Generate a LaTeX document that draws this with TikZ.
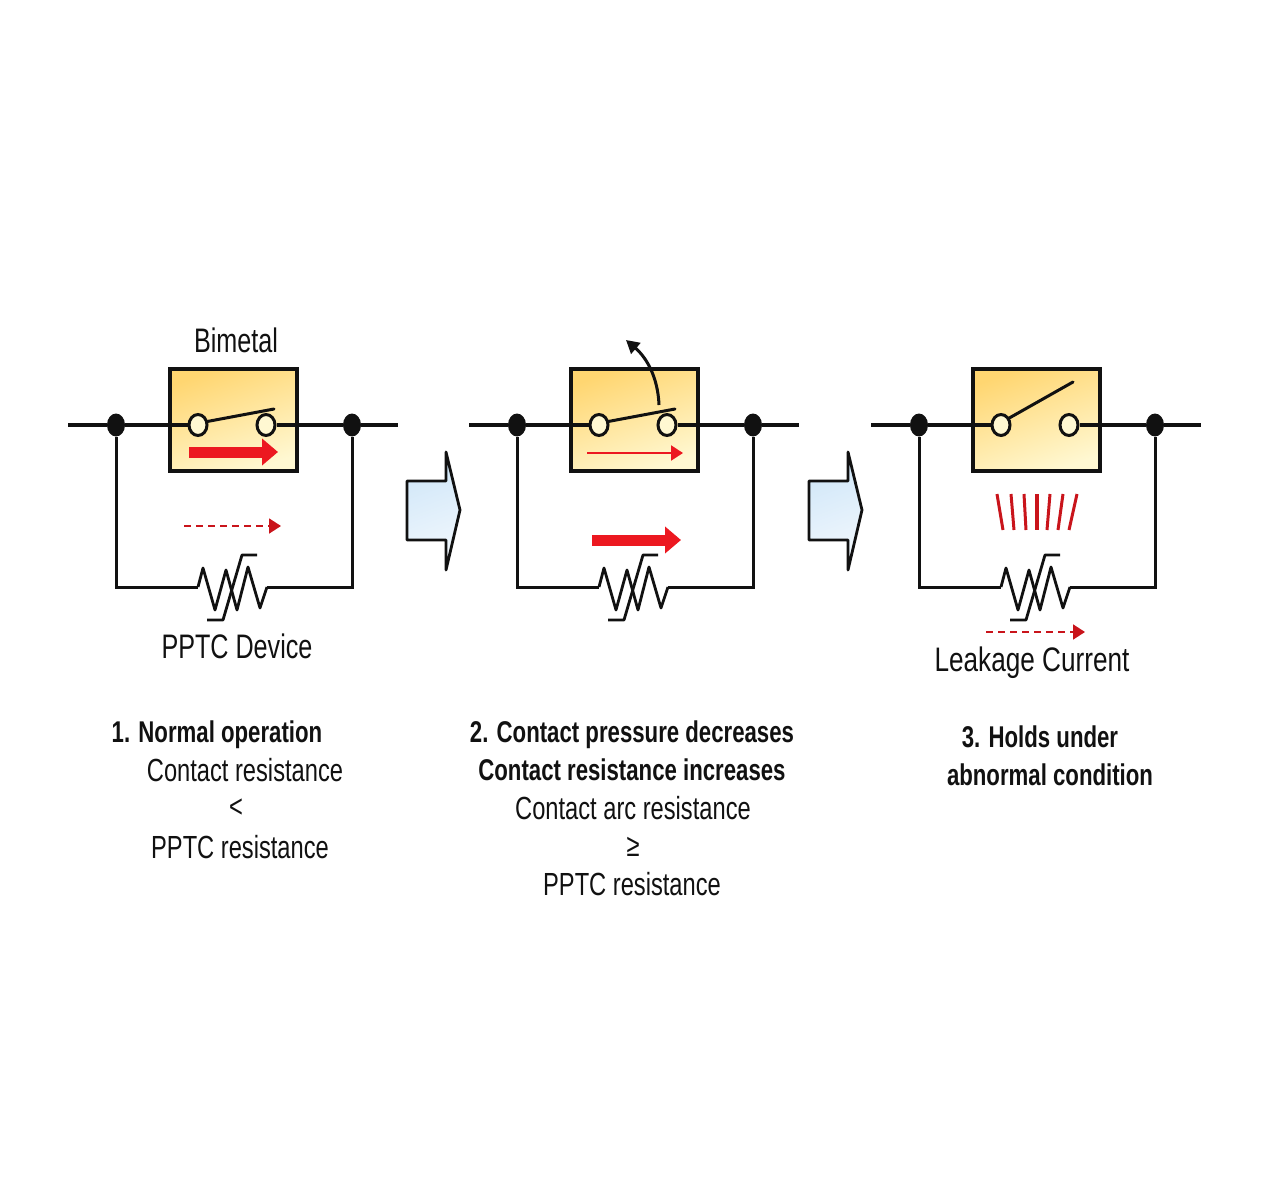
\documentclass[tikz,border=0pt]{standalone}
\usepackage{fontspec}
\setmainfont[FakeStretch=0.74]{Liberation Sans}
\usetikzlibrary{arrows.meta,calc}
\definecolor{boxdeep}{HTML}{FFD671}
\definecolor{boxpale}{HTML}{FFF8D2}
\definecolor{bluedeep}{HTML}{CFE6F8}
\definecolor{bluepale}{HTML}{F2F8FD}
\definecolor{redline}{HTML}{EC1820}
\definecolor{ink}{HTML}{111111}
\tikzset{
  wire/.style={draw=ink,line width=3.6pt},
  lead/.style={draw=ink,line width=3pt,line join=miter},
  dotnode/.style={ellipse,fill=ink,draw=none,minimum width=18pt,minimum height=23pt,inner sep=0pt},
  contact/.style={ellipse,draw=ink,line width=3pt,fill=boxpale,minimum width=18pt,minimum height=21pt,inner sep=0pt},
  bimetalbox/.style={draw=ink,line width=3.6pt,shading=axis,top color=boxdeep,bottom color=boxpale,shading angle=20,minimum width=127pt,minimum height=102pt,inner sep=0pt},
  lever/.style={draw=ink,line width=3pt,line cap=round},
  resist/.style={draw=ink,line width=2.8pt,line join=round},
  fatarrow/.style={draw=redline,line width=11pt,-{Triangle[width=26pt,length=16pt]}},
  thinarrow/.style={draw=redline,line width=2.2pt,-{Triangle[width=15pt,length=12pt]}},
  dasharrow/.style={draw=redline!85!black,line width=1.8pt,dash pattern=on 7pt off 5pt,-{Triangle[width=15pt,length=12pt]}},
  ray/.style={draw=redline!85!black,line width=3pt},
  blockarrow/.style={draw=ink,line width=2.8pt,line join=round,shading=axis,left color=bluedeep,right color=bluepale,shading angle=20},
  lab/.style={inner sep=0pt,text=ink,font=\fontsize{32}{32}\selectfont},
  biglab/.style={inner sep=0pt,text=ink,font=\fontsize{34}{34}\selectfont},
  boldlab/.style={inner sep=0pt,text=ink,font=\fontsize{30}{30}\selectfont\bfseries},
}
\usetikzlibrary{shapes.geometric}
% #1 prefix, #2 x offset
\newcommand{\circuit}[2]{%
  \begin{scope}[xshift=#2pt]
    \coordinate (#1wl) at (68,425);
    \coordinate (#1wr) at (398,425);
    \node[bimetalbox] (#1box) at (233.5,420) {};
    \node[dotnode] (#1dl) at (116,425) {};
    \node[dotnode] (#1dr) at (352,425) {};
    \coordinate (#1rl) at (198,587);
    \coordinate (#1rr) at (267,587);
    \coordinate (#1cl) at (116,587);
    \coordinate (#1cr) at (352,587);
    \node[contact] (#1sa) at (198,425) {};
    \node[contact] (#1sb) at (266,425) {};
    \draw[wire] (#1wl) -- (#1dl) -- (#1sa);
    \draw[wire] (#1sb) -- (#1dr) -- (#1wr);
    \draw[lead] (#1dl) -- (#1cl) -- (#1rl);
    \draw[lead] (#1dr) -- (#1cr) -- (#1rr);
    \draw[resist] (#1rl) -- (203,568) -- (215,610) -- (226,570) -- (237,610) -- (248,567) -- (260,608) -- (#1rr);
    \draw[resist] (207,620) -- (223,620) -- (242,555) -- (257,555);
  \end{scope}}
\begin{document}
\begin{tikzpicture}[x=1pt,y=-1pt]
\useasboundingbox (0,0) rectangle (1280,1190);
\fill[white] (0,0) rectangle (1280,1190);

\circuit{a}{0}
\circuit{b}{401}
\circuit{c}{803}

% levers
\coordinate (alev) at (274,409);
\draw[lever] (asa.20) -- (alev);
\coordinate (blev) at (675,409);
\draw[lever] (bsa.20) -- (blev);
\coordinate (clev) at (1073,382);
\draw[lever] (csa.40) -- (clev);

% current arrows, panel 1
\coordinate (f1s) at (189,452); \coordinate (f1e) at (278,452);
\draw[fatarrow] (f1s) -- (f1e);
\coordinate (d1s) at (184,526); \coordinate (d1e) at (281,526);
\draw[dasharrow] (d1s) -- (d1e);

% panel 2
\coordinate (h2s) at (587,453); \coordinate (h2e) at (683,453);
\draw[thinarrow] (h2s) -- (h2e);
\coordinate (f2s) at (592,540); \coordinate (f2e) at (681,540);
\draw[fatarrow] (f2s) -- (f2e);
\coordinate (m2s) at (659,405); \coordinate (m2e) at (626,340);
\draw[draw=ink,line width=3pt,-{Triangle[width=14pt,length=13pt]}] (m2s) .. controls (658,378) and (647,358) .. (m2e);

% panel 3
\coordinate (d3s) at (986,632); \coordinate (d3e) at (1085,632);
\draw[dasharrow] (d3s) -- (d3e);
\draw[ray] (997,494) -- (1003,530);
\draw[ray] (1011,494) -- (1014,530);
\draw[ray] (1024,494) -- (1026,530);
\draw[ray,line width=4pt] (1037,494) -- (1037,530);
\draw[ray] (1050,494) -- (1047,530);
\draw[ray] (1063,494) -- (1058,530);
\draw[ray] (1077,494) -- (1069,530);

% block arrows
\draw[blockarrow] (407,481) -- (446,481) -- (446,452) -- (460,510) -- (446,570) -- (446,540) -- (407,540) -- cycle;
\draw[blockarrow] (809,481) -- (848,481) -- (848,452) -- (862,510) -- (848,570) -- (848,540) -- (809,540) -- cycle;

% labels
\node[biglab] (bimetal) at (236,340) {Bimetal};
\node[biglab] (pptc) at (237,646) {PPTC Device};
\node[biglab,xscale=1.04] (leak) at (1032,663) {Leakage Current};

\node[boldlab] (t1a) at (217,735) {1. Normal operation};
\node[lab] (t1b) at (245,770) {Contact resistance};
\node[lab] (t1c) at (236,808) {<};
\node[lab] (t1d) at (240,847) {PPTC resistance};

\node[boldlab] (t2a) at (632,735) {2. Contact pressure decreases};
\node[boldlab] (t2b) at (632,770) {Contact resistance increases};
\node[lab] (t2c) at (633,808) {Contact arc resistance};
\node[lab] (t2d) at (633,847) {≥};
\node[lab] (t2e) at (632,884) {PPTC resistance};

\node[boldlab] (t3a) at (1040,737) {3. Holds under};
\node[boldlab] (t3b) at (1050,775) {abnormal condition};
\end{tikzpicture}
\end{document}
